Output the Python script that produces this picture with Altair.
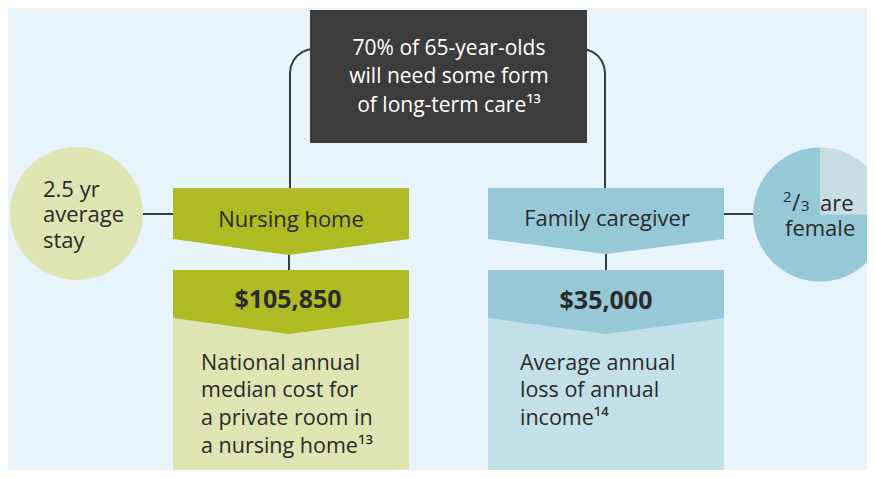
import altair as alt
import pandas as pd

# ---------------- content ----------------
top_lines = ["70% of 65-year-olds", "will need some form", "of long-term care¹³"]
stay_lines = ["2.5 yr", "average", "stay"]
branch_labels = ["Nursing home", "Family caregiver"]
cost_values = ["$105,850", "$35,000"]
nursing_desc = ["National annual", "median cost for", "a private room in", "a nursing home¹³"]
family_desc = ["Average annual", "loss of annual", "income¹⁴"]
pie_parts = ["2", "/", "3", "are", "female"]
pie_shares = [0.25, 0.75]          # light wedge, blue remainder (as drawn)

# ---------------- colours ----------------
BG = "#e7f4fb"
DARK = "#3c3c3c"
TXT = "#2a2a2a"
OLIVE = "#aebb22"
OLIVE_L = "#dfe4b3"
BLUE = "#97c8d8"
BLUE_L = "#c2e0e8"
PIE_L = "#c8dde2"

# ---------------- layout (page pixels) ----------------
W, H = 859, 462
xs = alt.Scale(domain=[8, 8 + W], nice=False, zero=False)
ys = alt.Scale(domain=[8, 8 + H], nice=False, zero=False, reverse=True)

def X(f):
    return alt.X(f, type="quantitative", scale=xs, axis=None)

def Y(f):
    return alt.Y(f, type="quantitative", scale=ys, axis=None)

rects = pd.DataFrame({
    "x": [310, 173, 488], "x2": [587, 409, 724],
    "y": [10, 318, 318], "y2": [143, 478, 478],
    "c": [DARK, OLIVE_L, BLUE_L],
})
rect_layer = alt.Chart(rects).mark_rect().encode(
    x=X("x"), x2="x2", y=Y("y"), y2="y2", color=alt.Color("c:N", scale=None))

areas = pd.DataFrame({
    "g": ["a"] * 3 + ["b"] * 3 + ["c"] * 3 + ["d"] * 3,
    "x": [173, 289, 409, 488, 606, 724, 173, 289, 409, 488, 606, 724],
    "y": [188] * 6 + [270] * 6,
    "y2": [239, 255, 239, 239, 254, 239, 318, 334, 318, 318, 334, 318],
    "c": [OLIVE] * 3 + [BLUE] * 3 + [OLIVE] * 3 + [BLUE] * 3,
})
area_layer = alt.Chart(areas).mark_area(orient="vertical", interpolate="linear").encode(
    x=X("x"), y=alt.Y("y:Q", scale=ys, axis=None, stack=None), y2="y2",
    detail="g:N", color=alt.Color("c:N", scale=None))

rules = pd.DataFrame({
    "x": [143, 289, 724, 606], "x2": [173, 289, 753, 606],
    "y": [214, 255, 214, 254], "y2": [214, 270, 214, 270],
})
rule_layer = alt.Chart(rules).mark_rule(color=DARK, strokeWidth=2).encode(
    x=X("x"), x2="x2", y=Y("y"), y2="y2")

# rounded connectors from the top box down to the two banners
curves = pd.DataFrame({
    "g": ["l"] * 8 + ["r"] * 8,
    "i": list(range(8)) * 2,
    "x": [314, 307.8, 302, 297, 293.2, 290.8, 290, 290,
          581, 587.2, 593, 598, 601.8, 604.2, 605, 605],
    "y": [49, 49.8, 52.2, 56, 61, 66.8, 73, 188,
          49, 49.8, 52.2, 56, 61, 66.8, 73, 188],
})
curve_layer = alt.Chart(curves).mark_line(color=DARK, strokeWidth=2, interpolate="linear").encode(
    x=X("x"), y=Y("y"), detail="g:N", order="i:Q")

circ = pd.DataFrame({"x": [76.5], "y": [213.5]})
circle_layer = alt.Chart(circ).mark_circle(size=133 * 133, opacity=1, color=OLIVE_L).encode(
    x=X("x"), y=Y("y"))

pie = pd.DataFrame({"x": [820, 820], "y": [214.5, 214.5], "share": pie_shares,
                    "c": [PIE_L, BLUE], "o": [0, 1]})
pie_layer = alt.Chart(pie).mark_arc(outerRadius=67).encode(
    x=X("x"), y=Y("y"),
    theta=alt.Theta("share:Q", stack=True),
    order=alt.Order("o:Q"),
    color=alt.Color("c:N", scale=None))

FONT = "Open Sans"

top_df = pd.DataFrame({"t": top_lines, "x": [449] * 3, "y": [55, 83, 112]})
top_layer = alt.Chart(top_df).mark_text(font=FONT, fontSize=21, color="white", align="center",
                                        baseline="alphabetic").encode(
    x=X("x"), y=Y("y"), text="t:N")

branch_df = pd.DataFrame({"t": branch_labels, "x": [291, 607], "y": [227, 226]})
branch_layer = alt.Chart(branch_df).mark_text(font=FONT, fontSize=22, color=TXT, align="center",
                                              baseline="alphabetic").encode(
    x=X("x"), y=Y("y"), text="t:N")

cost_df = pd.DataFrame({"t": cost_values, "x": [288, 606], "y": [308, 309]})
cost_layer = alt.Chart(cost_df).mark_text(font=FONT, fontSize=25, fontWeight="bold", color=TXT,
                                          align="center", baseline="alphabetic").encode(
    x=X("x"), y=Y("y"), text="t:N")

left_df = pd.DataFrame({
    "t": nursing_desc + family_desc + stay_lines + pie_parts,
    "x": [201] * 4 + [520] * 3 + [43] * 3 + [783, 792, 801, 820, 785],
    "y": [370, 397, 425, 453, 370, 397, 425, 197, 222, 248, 202, 211, 211, 211, 236],
    "s": [21.5] * 7 + [22] * 3 + [15, 23, 15, 22, 22],
})
left_layer = alt.Chart(left_df).mark_text(font=FONT, color=TXT, align="left",
                                          baseline="alphabetic").encode(
    x=X("x"), y=Y("y"), text="t:N", size=alt.Size("s:Q", scale=None))

chart = alt.layer(
    rect_layer, area_layer, rule_layer, curve_layer, circle_layer, pie_layer,
    top_layer, branch_layer, cost_layer, left_layer,
).properties(
    width=W, height=H, background=BG, padding=0,
    autosize=alt.AutoSizeParams(type="none"),
).configure_view(stroke=None)

chart.save("out.html", embed_options={"renderer": "svg", "actions": False})
